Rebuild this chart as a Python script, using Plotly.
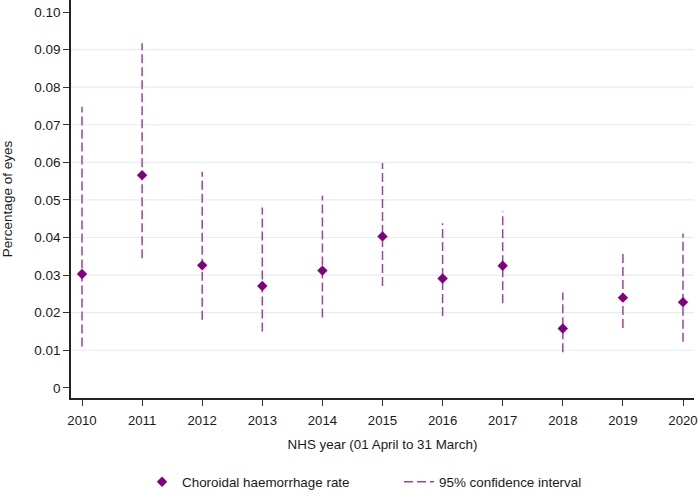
import plotly.graph_objects as go

years = [2010, 2011, 2012, 2013, 2014, 2015, 2016, 2017, 2018, 2019, 2020]
rate = [0.0303, 0.0566, 0.0326, 0.0271, 0.0312, 0.0403, 0.0291, 0.0325, 0.0158, 0.0240, 0.0228]
ci_low = [0.0110, 0.0345, 0.0181, 0.0150, 0.0187, 0.0271, 0.0191, 0.0225, 0.0095, 0.0159, 0.0123]
ci_high = [0.0748, 0.0917, 0.0575, 0.0480, 0.0511, 0.0598, 0.0438, 0.0469, 0.0254, 0.0358, 0.0411]
y_ticks = [0, 0.01, 0.02, 0.03, 0.04, 0.05, 0.06, 0.07, 0.08, 0.09, 0.10]
y_labels = ["0", "0.01", "0.02", "0.03", "0.04", "0.05", "0.06", "0.07", "0.08", "0.09", "0.10"]

ci_x, ci_y = [], []
for yr, lo, hi in zip(years, ci_low, ci_high):
    ci_x += [yr, yr, None]
    ci_y += [lo, hi, None]

fig = go.Figure()
fig.add_trace(go.Scatter(
    x=ci_x, y=ci_y, mode="lines", name="95% confidence interval",
    line=dict(color="#a3409f", width=1.5, dash="9px,4px"),
    legendrank=2,
))
fig.add_trace(go.Scatter(
    x=years, y=rate, mode="markers", name="Choroidal haemorrhage rate",
    marker=dict(symbol="diamond", size=8, color="#800080"),
    legendrank=1,
))

font = "Liberation Sans, Arial, sans-serif"
fig.update_layout(
    width=698, height=493,
    margin=dict(l=71, r=4, t=0, b=95, autoexpand=False),
    paper_bgcolor="white", plot_bgcolor="white",
    font=dict(family=font, size=13, color="#1a1a1a"),
    showlegend=True,
    legend=dict(orientation="h", x=0.114, xanchor="left", y=-0.211, yanchor="middle",
                font=dict(size=13.4), entrywidth=212, entrywidthmode="pixels"),
)
fig.update_xaxes(
    range=[2009.817, 2020.183], tickmode="array", tickvals=years,
    ticks="outside", ticklen=6, tickcolor="#333333", tickfont=dict(size=13.2),
    ticklabelstandoff=3, automargin=False,
    showline=True, linecolor="#222222", linewidth=1.5,
    showgrid=False, zeroline=False,
    title=dict(text="NHS year (01 April to 31 March)", standoff=13, font=dict(size=13.4)),
)
fig.update_yaxes(
    range=[-0.0027, 0.1032], tickmode="array", tickvals=y_ticks, ticktext=y_labels,
    ticks="outside", ticklen=6, tickcolor="#333333", tickfont=dict(size=13.5),
    automargin=False,
    showline=True, linecolor="#222222", linewidth=1.5,
    showgrid=False, zeroline=False,
    title=dict(text="Percentage of eyes", standoff=19, font=dict(size=13.5)),
)
for v in y_ticks[1:-1]:
    fig.add_hline(y=v, line=dict(color="#e3eef0", width=1.2), layer="below")

fig.write_html("out.html", config={"displayModeBar": False},
               post_script="document.body.style.margin='0';")
